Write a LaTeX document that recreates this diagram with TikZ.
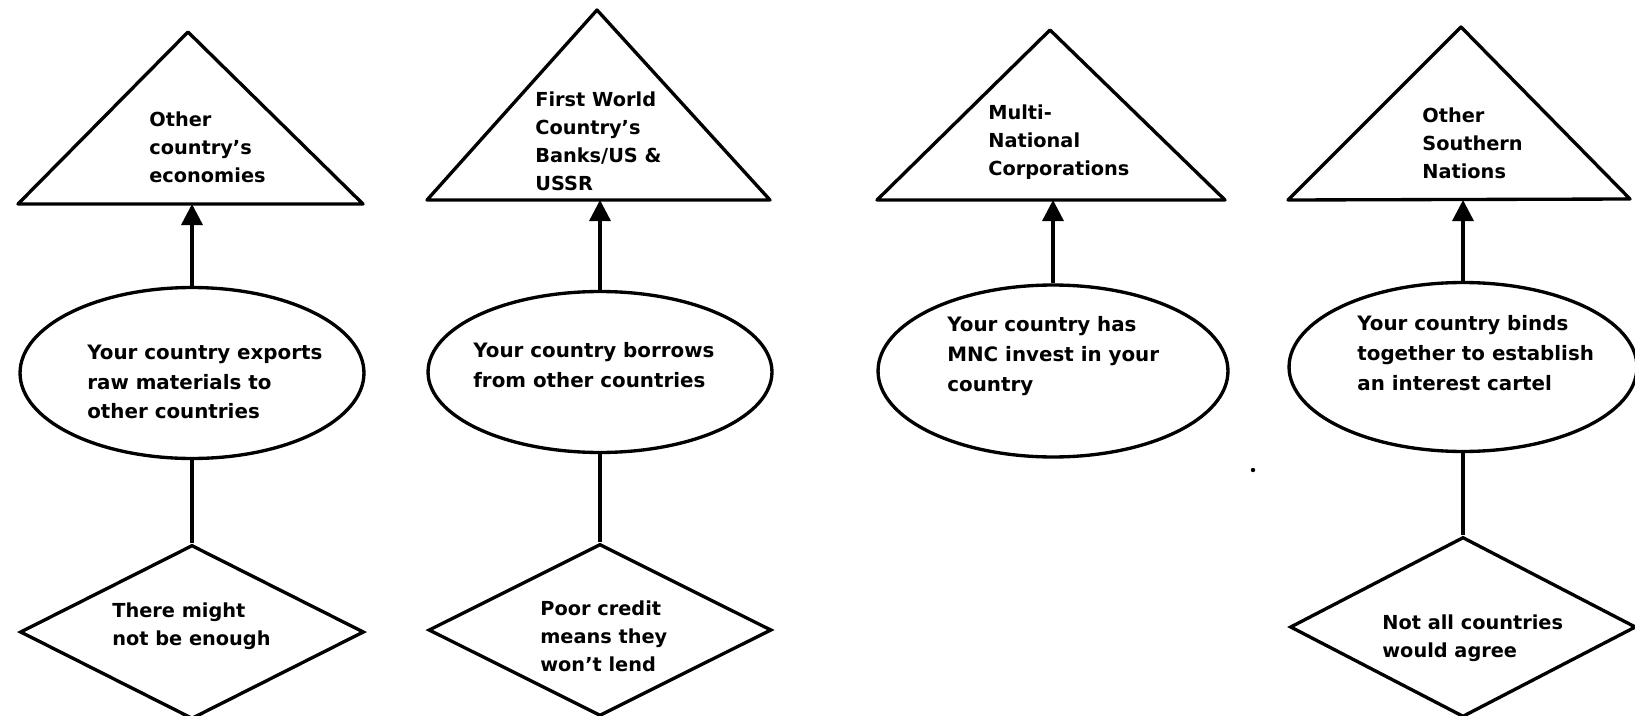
\documentclass[tikz,border=0pt]{standalone}
\usepackage{fontspec}
\setmainfont{DejaVu Sans}
\usetikzlibrary{shapes.geometric,arrows.meta}
\begin{document}
\begin{tikzpicture}[x=0.02cm,y=-0.02cm,
  shp/.style={draw=black,line width=1.9pt,inner sep=0pt},
  oval/.style={shp,ellipse},
  rhomb/.style={shp,diamond},
  tri/.style={draw=black,line width=1.9pt,line join=round},
  lbl/.style={font=\fontsize{11}{16}\selectfont\bfseries,align=left,anchor=west,inner sep=0pt},
  elbl/.style={lbl,font=\fontsize{11.3}{17}\selectfont\bfseries},
  conn/.style={line width=1.9pt},
  arr/.style={conn,-{Triangle[length=12pt,width=12pt]}},
]
\useasboundingbox (0,0) rectangle (1635,716);
\clip (0,0) rectangle (1635,716);

% ---------- column 1 ----------
\coordinate (t1a) at (188,32);
\coordinate (t1l) at (18,204);
\coordinate (t1r) at (363,204);
\draw[tri] (t1a) -- (t1l) -- (t1r) -- cycle;
\node[lbl] (t1text) at (149,147) {Other\\country's\\economies};
\node[oval,minimum width=6.88cm,minimum height=3.42cm] (e1) at (192,373) {};
\node[elbl] (e1text) at (87,382) {Your country exports\\raw materials to\\other countries};
\node[rhomb,minimum width=6.88cm,minimum height=3.48cm] (d1) at (192,632) {};
\node[lbl] (d1text) at (112,626) {There might\\not be enough};
\draw[arr] (e1.north) -- (e1.north |- t1l);
\draw[conn] (e1.south) -- (d1.north);

% ---------- column 2 ----------
\coordinate (t2a) at (597,10);
\coordinate (t2l) at (427,200);
\coordinate (t2r) at (770,200);
\draw[tri] (t2a) -- (t2l) -- (t2r) -- cycle;
\node[lbl] (t2text) at (535,141) {First World\\Country's\\Banks/US \&\\USSR};
\node[oval,minimum width=6.88cm,minimum height=3.22cm] (e2) at (600,372) {};
\node[elbl] (e2text) at (473,365) {Your country borrows\\from other countries};
\node[rhomb,minimum width=6.86cm,minimum height=3.44cm] (d2) at (600,630) {};
\node[lbl] (d2text) at (540,636) {Poor credit\\means they\\won't lend};
\draw[arr] (e2.north) -- (e2.north |- t2l);
\draw[conn] (e2.south) -- (d2.north);

% ---------- column 3 ----------
\coordinate (t3a) at (1050,30);
\coordinate (t3l) at (877,200);
\coordinate (t3r) at (1225,200);
\draw[tri] (t3a) -- (t3l) -- (t3r) -- cycle;
\node[lbl] (t3text) at (988,142) {Multi-\\National\\Corporations};
\node[oval,minimum width=7.0cm,minimum height=3.44cm] (e3) at (1053,371) {};
\node[elbl] (e3text) at (947,356) {Your country has\\MNC invest in your\\country};
\draw[arr] (e3.north) -- (e3.north |- t3l);
\fill (1253,470) circle (2.2);

% ---------- column 4 ----------
\coordinate (t4a) at (1461,27);
\coordinate (t4l) at (1288,200);
\coordinate (t4r) at (1630,199);
\draw[tri] (t4a) -- (t4l) -- (t4r) -- cycle;
\node[lbl] (t4text) at (1422,143) {Other\\Southern\\Nations};
\node[oval,minimum width=6.96cm,minimum height=3.38cm] (e4) at (1463,367) {};
\node[elbl] (e4text) at (1357,353) {Your country binds\\together to establish\\an interest cartel};
\node[rhomb,minimum width=6.92cm,minimum height=3.6cm] (d4) at (1463,627) {};
\node[lbl] (d4text) at (1382,638) {Not all countries\\would agree};
\draw[arr] (e4.north) -- (e4.north |- t4l);
\draw[conn] (e4.south) -- (d4.north);
\end{tikzpicture}
\end{document}
